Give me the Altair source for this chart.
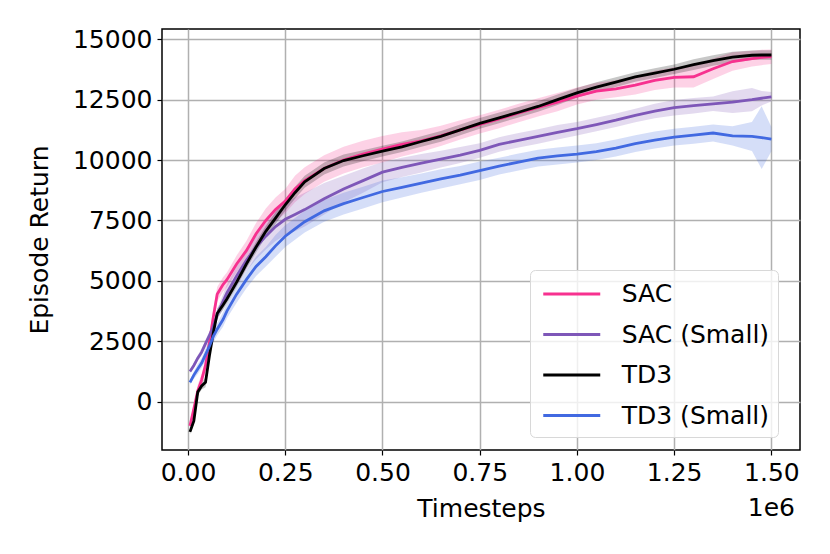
import altair as alt
import pandas as pd

# Timesteps (in units of 1e6)
steps = [0.005, 0.015, 0.025, 0.035, 0.045, 0.055, 0.065, 0.075, 0.09, 0.1,
         0.125, 0.15, 0.175, 0.2, 0.225, 0.25, 0.275, 0.3, 0.35, 0.4,
         0.45, 0.5, 0.55, 0.6, 0.65, 0.7, 0.75, 0.8, 0.85, 0.9,
         0.95, 1.0, 1.05, 1.1, 1.15, 1.2, 1.25, 1.3, 1.35, 1.4,
         1.45, 1.475, 1.5]

series_names = ["SAC", "SAC (Small)", "TD3", "TD3 (Small)"]
series_colors = ["#f7318f", "#7e57b8", "#000000", "#4169e1"]

sac_mean = [-1000, -300, 450, 900, 1500, 2450, 3500, 4450, 4850, 5050,
            5700, 6250, 6950, 7500, 7950, 8300, 8800, 9150, 9650, 10000,
            10250, 10450, 10650, 10800, 11000, 11250, 11480, 11700, 11950, 12180,
            12400, 12650, 12850, 12950, 13100, 13300, 13420, 13450, 13780, 14080,
            14200, 14250, 14280]
sac_std = [150, 200, 250, 250, 300, 350, 350, 300, 300, 300,
           350, 400, 450, 500, 500, 500, 550, 550, 550, 550,
           550, 550, 500, 450, 420, 400, 380, 380, 380, 380,
           380, 350, 350, 350, 380, 400, 420, 450, 420, 380,
           330, 320, 300]

sacs_mean = [1250, 1500, 1800, 2050, 2400, 2750, 3100, 3600, 4150, 4500,
             5200, 5850, 6400, 6850, 7250, 7550, 7750, 7950, 8400, 8800,
             9150, 9500, 9700, 9870, 10040, 10210, 10400, 10650, 10820, 10980,
             11150, 11300, 11470, 11650, 11850, 12030, 12170, 12250, 12330, 12400,
             12500, 12560, 12620]
sacs_std = [80, 100, 120, 150, 150, 150, 200, 250, 300, 350,
            400, 450, 500, 550, 600, 650, 700, 700, 650, 550,
            500, 420, 400, 380, 350, 330, 300, 300, 300, 300,
            300, 280, 280, 280, 280, 300, 320, 320, 300, 450,
            480, 300, 200]

td3_mean = [-1250, -800, 400, 650, 800, 1900, 2850, 3650, 4000, 4250,
            4950, 5700, 6400, 7050, 7600, 8150, 8650, 9100, 9650, 9980,
            10180, 10370, 10550, 10770, 10980, 11250, 11520, 11750, 11980, 12220,
            12500, 12780, 13020, 13230, 13440, 13600, 13760, 13950, 14120, 14260,
            14340, 14350, 14350]
td3_std = [100, 150, 150, 150, 200, 200, 200, 200, 200, 200,
           200, 200, 220, 220, 250, 250, 250, 250, 250, 250,
           230, 220, 220, 220, 220, 220, 220, 220, 220, 220,
           220, 200, 200, 200, 200, 200, 200, 220, 220, 220,
           200, 200, 200]

td3s_mean = [800, 1100, 1350, 1600, 1950, 2300, 2700, 3000, 3400, 3750,
             4450, 5050, 5600, 6000, 6450, 6850, 7150, 7450, 7900, 8200,
             8450, 8700, 8870, 9050, 9220, 9380, 9560, 9750, 9920, 10080,
             10170, 10250, 10350, 10500, 10680, 10830, 10950, 11030, 11120, 11000,
             10980, 10930, 10870]
td3s_std = [100, 150, 200, 200, 250, 250, 250, 250, 300, 300,
            350, 350, 400, 400, 450, 450, 450, 450, 450, 450,
            450, 450, 420, 400, 400, 380, 380, 350, 350, 350,
            350, 350, 350, 350, 350, 350, 350, 350, 350, 400,
            600, 1300, 500]

means = [sac_mean, sacs_mean, td3_mean, td3s_mean]
stds = [sac_std, sacs_std, td3_std, td3s_std]

rows = []
for name, m, s in zip(series_names, means, stds):
    for i, x in enumerate(steps):
        rows.append({"series": name, "band_series": name, "x": x, "mean": m[i],
                     "lo": m[i] - s[i], "hi": m[i] + s[i], "order": i})
df = pd.DataFrame(rows)

FONT = "DejaVu Sans"
FS = 25

xscale = alt.Scale(domain=[-0.0669, 1.5735], nice=False, zero=False)
yscale = alt.Scale(domain=[-2000, 15426], nice=False, zero=False)

base = alt.Chart(df)

bands = base.mark_area(opacity=0.22, clip=True).encode(
    x=alt.X("x:Q", scale=xscale),
    y=alt.Y("lo:Q", scale=yscale),
    y2="hi:Q",
    color=alt.Color("band_series:N",
                    scale=alt.Scale(domain=series_names, range=series_colors),
                    legend=None),
)

lines = base.mark_line(strokeWidth=2.8, clip=True).encode(
    x=alt.X("x:Q", scale=xscale,
            axis=alt.Axis(title="Timesteps", values=[0, 0.25, 0.5, 0.75, 1.0, 1.25, 1.5],
                          format=".2f", grid=True)),
    y=alt.Y("mean:Q", scale=yscale,
            axis=alt.Axis(title="Episode Return",
                          values=[0, 2500, 5000, 7500, 10000, 12500, 15000],
                          format="d", grid=True)),
    color=alt.Color("series:N",
                    scale=alt.Scale(domain=series_names, range=series_colors),
                    legend=alt.Legend(title=None, orient="none", legendX=368, legendY=241,
                                      symbolType="M-2,0L2,0", symbolSize=812,
                                      symbolStrokeWidth=3, symbolOffset=17.75,
                                      labelFontSize=FS,
                                      labelFont=FONT, labelColor="black",
                                      labelOffset=34, rowPadding=11.5,
                                      padding=8, cornerRadius=5,
                                      strokeColor="#d8d8d8",
                                      fillColor="rgba(255,255,255,0.8)")),
    order="order:Q",
)

offset_text = alt.Chart(pd.DataFrame({"t": ["1e6"]})).mark_text(
    font=FONT, fontSize=FS, align="center", baseline="middle", color="black"
).encode(x=alt.datum(1.5, scale=xscale), y=alt.value(479), text="t:N")

chart = alt.layer(bands, lines, offset_text).resolve_scale(
    color="independent"
).properties(
    width=638, height=421,
    autosize=alt.AutoSizeParams(type="none"),
    padding={"left": 154, "top": 21, "right": 22, "bottom": 96},
).configure_view(
    stroke="black", strokeWidth=1.5
).configure_axis(
    labelFont=FONT, labelFontSize=FS, labelColor="black",
    titleFont=FONT, titleFontSize=FS, titleFontWeight="normal", titleColor="black",
    tickColor="black", tickSize=5, tickWidth=1.2, domain=False,
    gridColor="#b0b0b0", gridWidth=1.5, labelPadding=5,
).configure_axisX(titlePadding=11).configure_axisY(titlePadding=20)

chart.save("out.html", embed_options={"renderer": "svg", "actions": False})
